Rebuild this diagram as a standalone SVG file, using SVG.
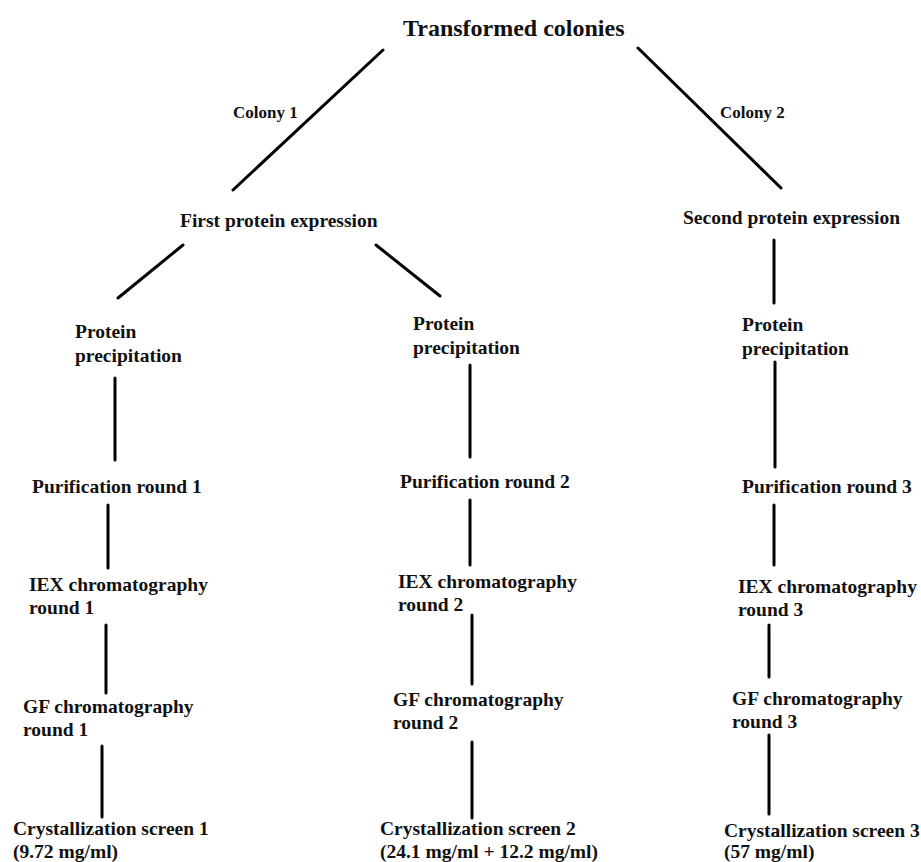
<svg xmlns="http://www.w3.org/2000/svg" width="921" height="862" viewBox="0 0 921 862">
<style>
text{font-weight:bold;fill:#111;font-size:19.5px}
.t{font-size:24px}
.c{font-size:17px}
line{stroke:#000;stroke-width:3;stroke-linecap:round}
</style>
<rect width="921" height="862" fill="#fff"/>
<g id="connectors">
<line x1="383" y1="50" x2="233" y2="190"/>
<line x1="638" y1="48" x2="781" y2="188"/>
<line x1="183" y1="245" x2="118" y2="298"/>
<line x1="376" y1="245" x2="440" y2="296"/>
<line x1="774" y1="240" x2="774" y2="303"/>
<line x1="115" y1="378" x2="115" y2="460"/>
<line x1="470" y1="365" x2="470" y2="457"/>
<line x1="775" y1="362" x2="775" y2="467"/>
<line x1="108" y1="505" x2="108" y2="568"/>
<line x1="470" y1="500" x2="470" y2="565"/>
<line x1="774" y1="505" x2="774" y2="565"/>
<line x1="106" y1="625" x2="106" y2="693"/>
<line x1="472" y1="615" x2="472" y2="684"/>
<line x1="769" y1="625" x2="769" y2="677"/>
<line x1="102" y1="746" x2="102" y2="817"/>
<line x1="472" y1="742" x2="472" y2="818"/>
<line x1="769" y1="735" x2="769" y2="814"/>
</g>
<g font-family="Liberation Serif, Times New Roman, serif">
<g id="root"><text class="t" x="403" y="36">Transformed colonies</text></g>
<g id="label-colony1"><text class="c" x="233" y="118">Colony 1</text></g>
<g id="label-colony2"><text class="c" x="720" y="118">Colony 2</text></g>
<g id="first-expression"><text x="180" y="227">First protein expression</text></g>
<g id="second-expression"><text x="683" y="224">Second protein expression</text></g>
<g id="precip-1"><text x="75" y="338">Protein</text><text x="75" y="362">precipitation</text></g>
<g id="precip-2"><text x="413" y="330">Protein</text><text x="413" y="354">precipitation</text></g>
<g id="precip-3"><text x="742" y="331">Protein</text><text x="742" y="355">precipitation</text></g>
<g id="purif-1"><text x="32" y="493">Purification round 1</text></g>
<g id="purif-2"><text x="400" y="488">Purification round 2</text></g>
<g id="purif-3"><text x="742" y="493">Purification round 3</text></g>
<g id="iex-1"><text x="29" y="591">IEX chromatography</text><text x="29" y="614">round 1</text></g>
<g id="iex-2"><text x="398" y="588">IEX chromatography</text><text x="398" y="611">round 2</text></g>
<g id="iex-3"><text x="738" y="593">IEX chromatography</text><text x="738" y="616">round 3</text></g>
<g id="gf-1"><text x="23" y="713">GF chromatography</text><text x="23" y="736">round 1</text></g>
<g id="gf-2"><text x="393" y="706">GF chromatography</text><text x="393" y="729">round 2</text></g>
<g id="gf-3"><text x="732" y="705">GF chromatography</text><text x="732" y="728">round 3</text></g>
<g id="cryst-1"><text x="13" y="835">Crystallization screen 1</text><text x="13" y="858">(9.72 mg/ml)</text></g>
<g id="cryst-2"><text x="380" y="835">Crystallization screen 2</text><text x="380" y="858">(24.1 mg/ml + 12.2 mg/ml)</text></g>
<g id="cryst-3"><text x="724" y="837">Crystallization screen 3</text><text x="724" y="858">(57 mg/ml)</text></g>
</g>
</svg>
